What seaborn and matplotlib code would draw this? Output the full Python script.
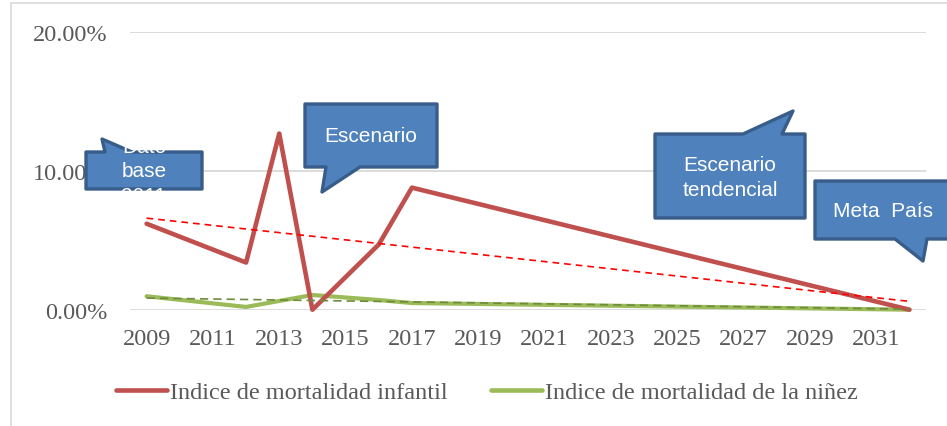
import matplotlib
matplotlib.use("Agg")
import matplotlib.pyplot as plt
from matplotlib.patches import Polygon, Rectangle
from matplotlib.ticker import FuncFormatter
import pandas as pd
import seaborn as sns

# Data (values in %)
years_infantil = [2009, 2012, 2013, 2014, 2016, 2017, 2032]
infantil = [6.2, 3.4, 12.7, 0.0, 4.7, 8.8, 0.0]
years_ninez = [2009, 2012, 2014, 2016, 2017, 2032]
ninez = [0.97, 0.2, 1.06, 0.7, 0.48, 0.0]
trend_years = [2009, 2032]
trend_infantil = [6.6, 0.6]
trend_ninez = [0.84, 0.04]
year_ticks = list(range(2009, 2032, 2))
pct_ticks = [0, 10, 20]
label_infantil = "Indice de mortalidad infantil"
label_ninez = "Indice de mortalidad de la niñez"

W, H = 947, 427
RED = "#C0504D"
GREEN = "#9BBB59"
GREY_TXT = "#595959"
GRID = "#D9D9D9"
BOX_FILL = "#4F81BD"
BOX_EDGE = "#385D8A"

sns.set_theme(style="white")
plt.rcParams["font.family"] = ["Liberation Serif", "DejaVu Serif"]

fig = plt.figure(figsize=(W / 100, H / 100), dpi=100)
ax = fig.add_axes([130 / W, 1 - 310.7 / H, (926 - 130) / W, (310.7 - 33.3) / H])


def px(x, y):
    # pixel position (from top-left) -> figure fraction
    return (x / W, 1 - y / H)


# outer chart border
fig.add_artist(Rectangle(px(11, 440), (960 - 11) / W, (440 - 4) / H,
                         transform=fig.transFigure, fill=False,
                         edgecolor=GRID, lw=1.2))

df_inf = pd.DataFrame({"year": years_infantil, "value": infantil})
df_nin = pd.DataFrame({"year": years_ninez, "value": ninez})
df_tinf = pd.DataFrame({"year": trend_years, "value": trend_infantil})
df_tnin = pd.DataFrame({"year": trend_years, "value": trend_ninez})

sns.lineplot(data=df_inf, x="year", y="value", ax=ax, color=RED, lw=3.3,
             label=label_infantil, solid_capstyle="round", clip_on=False, zorder=4)
sns.lineplot(data=df_nin, x="year", y="value", ax=ax, color=GREEN, lw=3.0,
             label=label_ninez, solid_capstyle="round", clip_on=False, zorder=3)
sns.lineplot(data=df_tinf, x="year", y="value", ax=ax, color="#FF0000", lw=1.2,
             clip_on=False, zorder=5, linestyle=(0, (4, 3)))
sns.lineplot(data=df_tnin, x="year", y="value", ax=ax, color="#6E8B3D", lw=1.2,
             clip_on=False, zorder=5, linestyle=(0, (5, 3)))

ax.set_xlim(2008.5, 2032.5)
ax.set_ylim(0, 20)
ax.set_xticks(year_ticks)
ax.set_yticks(pct_ticks)
ax.yaxis.set_major_formatter(FuncFormatter(lambda v, p: f"{v:.2f}%"))
ax.grid(axis="y", color=GRID, lw=1.3)
ax.set_axisbelow(True)
for s in ax.spines.values():
    s.set_visible(False)
ax.tick_params(axis="both", length=0, labelsize=17.5, colors=GREY_TXT)
ax.tick_params(axis="y", pad=16)
ax.tick_params(axis="x", pad=13)
ax.set_xlabel("")
ax.set_ylabel("")

handles, labels = ax.get_legend_handles_labels()
ax.get_legend().remove()
leg = fig.legend(handles[:2], labels[:2], loc="center", bbox_to_anchor=px(487, 393),
                 ncol=2, frameon=False, fontsize=17.5, handlelength=2.1,
                 handletextpad=0.1, columnspacing=1.8)
for t in leg.get_texts():
    t.set_color(GREY_TXT)
for line in leg.get_lines():
    line.set_solid_capstyle("round")
    line.set_linewidth(3.3)


def callout(points, text, cx, cy, size=15):
    poly = Polygon([px(x, y) for x, y in points], closed=True,
                   transform=fig.transFigure, facecolor=BOX_FILL,
                   edgecolor=BOX_EDGE, lw=2.4, joinstyle="round", zorder=10)
    fig.add_artist(poly)
    fig.text(*px(cx, cy), text, transform=fig.transFigure, ha="center",
             va="center", color="white", fontsize=size,
             family=["Liberation Sans", "DejaVu Sans"], linespacing=1.35,
             zorder=11)


# "Dato base" callout, tail up-left
callout([(86, 153), (105, 153), (102, 140), (132, 153), (202, 153),
         (202, 190), (86, 190)], "Dato\nbase\n2011", 144, 172)
# "Escenario" callout, tail down-left
callout([(305, 105), (437, 105), (437, 168), (360, 168), (322, 193),
         (326, 168), (305, 168)], "Escenario", 371, 136)
# "Escenario tendencial" callout, tail up-right
callout([(655, 135), (743, 135), (793, 112), (782, 135), (805, 135),
         (805, 219), (655, 219)], "Escenario\ntendencial", 730, 178)
# "Meta País" callout, tail down-right
callout([(815, 182), (955, 182), (955, 240), (927, 240), (923, 262),
         (895, 240), (815, 240)], "Meta  País", 883, 212)

fig.savefig("out.png", dpi=100)
